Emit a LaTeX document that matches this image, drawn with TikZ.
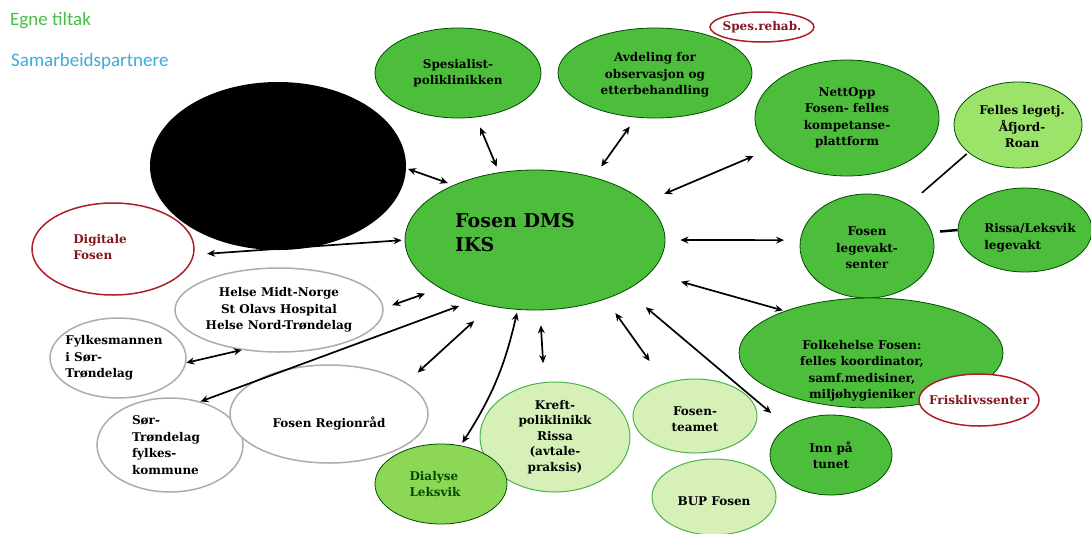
\documentclass[tikz,border=0pt]{standalone}
\usepackage{fontspec}
\setmainfont{DejaVu Serif}
\newfontfamily\legendfont{Carlito}
\usepackage{tikz}
\usetikzlibrary{arrows, arrows.meta}
\usetikzlibrary{shapes}

\definecolor{tiltakgreen}{RGB}{77,190,60}
\definecolor{lightgreen}{RGB}{155,228,105}
\definecolor{dialysegreen}{RGB}{140,215,85}
\definecolor{palegreen}{RGB}{214,240,184}
\definecolor{rehabred}{RGB}{175,30,40}
\definecolor{legendgreen}{RGB}{70,190,70}
\definecolor{legendblue}{RGB}{60,170,220}

\begin{document}
\begin{tikzpicture}[x=1pt,y=-1pt]
\tikzset{txt/.style={font=\bfseries\fontsize{12}{16.5}\selectfont, align=center, inner sep=0pt}}
\tikzset{tiltak/.style={ellipse, draw=green!30!black, line width=0.8pt, fill=tiltakgreen, inner sep=0pt}}
\tikzset{partner/.style={ellipse, draw=gray!65, line width=1.5pt, fill=white, inner sep=0pt}}
\tikzset{rehab/.style={ellipse, draw=rehabred, line width=1.5pt, fill=white, inner sep=0pt}}
\tikzset{redtxt/.style={txt, text=rehabred!75!black}}
\tikzset{legend/.style={anchor=base west, inner sep=0pt, font=\legendfont\fontsize{19}{21}\selectfont}}
\tikzset{link/.style={{Stealth[length=8pt,width=7pt]}-{Stealth[length=8pt,width=7pt]}, line width=1.7pt}}
\useasboundingbox (0,0) rectangle (1091,533);

\node[legend, text=legendgreen] (egne) at (10,25) {Egne tiltak};
\node[legend, text=legendblue] (samarbeid) at (11,66) {Samarbeidspartnere};

\node[ellipse, fill=black, inner sep=0pt, minimum width=256, minimum height=168] (black) at (278,166) {};
\node[tiltak, minimum width=260, minimum height=140, label={[txt, font=\bfseries\fontsize{19}{24}\selectfont, align=left, xshift=-20pt, yshift=7pt]center:{Fosen DMS\\IKS}}] (dms) at (535,240) {};
\node[tiltak, minimum width=166, minimum height=90, label={[txt]center:{Spesialist-\\poliklinikken}}] (spes) at (458,73) {};
\node[tiltak, minimum width=194, minimum height=90, label={[txt, yshift=-2pt]center:{Avdeling for\\observasjon og\\etterbehandling}}] (avd) at (655,73) {};
\node[rehab, minimum width=104, minimum height=30, label={[redtxt]center:{Spes.rehab.}}] (spesrehab) at (762,27) {};
\node[tiltak, minimum width=184, minimum height=116, label={[txt]center:{NettOpp\\Fosen- felles\\kompetanse-\\plattform}}] (nett) at (847,118) {};
\node[ellipse, draw=green!30!black, line width=0.8pt, fill=lightgreen, inner sep=0pt, minimum width=128, minimum height=86, label={[txt, xshift=4pt, yshift=-2pt]center:{Felles legetj.\\Åfjord-\\Roan}}] (felles) at (1018,125) {};
\node[tiltak, minimum width=134, minimum height=104, label={[txt, yshift=-2pt]center:{Fosen\\legevakt-\\senter}}] (legevakt) at (867,246) {};
\node[tiltak, minimum width=134, minimum height=84, label={[txt, align=left, xshift=5pt, yshift=-8pt]center:{Rissa/Leksvik\\legevakt}}] (rissa) at (1025,230) {};
\node[tiltak, minimum width=264, minimum height=110, label={[txt, xshift=-9pt, yshift=-18pt]center:{Folkehelse Fosen:\\felles koordinator,\\samf.medisiner,\\miljøhygieniker}}] (fh) at (871,353) {};
\node[rehab, minimum width=120, minimum height=52, label={[redtxt]center:{Frisklivssenter}}] (frisk) at (979,400) {};
\node[tiltak, minimum width=122, minimum height=80, label={[txt]center:{Inn på\\tunet}}] (tunet) at (831,455) {};
\node[ellipse, draw=gray!60!green, line width=1pt, fill=palegreen, inner sep=0pt, minimum width=124, minimum height=76, label={[txt, yshift=-4pt]center:{BUP Fosen}}] (bup) at (714,497) {};
\node[ellipse, draw=gray!60!green, line width=1pt, fill=palegreen, inner sep=0pt, minimum width=124, minimum height=74, label={[txt, yshift=-3pt]center:{Fosen-\\teamet}}] (teamet) at (695,416) {};
\node[ellipse, draw=gray!60!green, line width=1pt, fill=palegreen, inner sep=0pt, minimum width=150, minimum height=110, label={[txt, font=\bfseries\fontsize{12}{15.5}\selectfont]center:{Kreft-\\poliklinikk\\Rissa\\(avtale-\\praksis)}}] (kreft) at (555,437) {};
\node[ellipse, draw=green!30!black, line width=0.8pt, fill=dialysegreen, inner sep=0pt, minimum width=132, minimum height=80, label={[txt, align=left, text=green!30!black, xshift=-6pt]center:{Dialyse\\Leksvik}}] (dialyse) at (441,484) {};

\node[partner, minimum width=146, minimum height=94, label={[txt, align=left, xshift=-4pt]center:{Sør-\\Trøndelag\\fylkes-\\kommune}}] (stfk) at (170,445) {};
\node[partner, minimum width=198, minimum height=98, label={[txt, yshift=-9pt]center:{Fosen Regionråd}}] (region) at (329,414) {};
\node[partner, minimum width=136, minimum height=80, label={[txt, align=left, xshift=-4pt]center:{Fylkesmannen\\i Sør-\\Trøndelag}}] (fylkesmann) at (118,358) {};
\node[partner, minimum width=208, minimum height=84, label={[txt]center:{Helse Midt-Norge\\St Olavs Hospital\\Helse Nord-Trøndelag}}] (helse) at (279,310) {};
\node[rehab, minimum width=162, minimum height=92, label={[redtxt, align=left, xshift=-13pt, yshift=2pt]center:{Digitale\\Fosen}}] (digital) at (113,249) {};

\draw[link, shorten <=6pt, shorten >=11pt] (dms.118) -- (spes.-68);
\draw[link, shorten <=13pt, shorten >=11pt] (dms.47) -- (avd.-113);
\draw[link, shorten <=21pt, shorten >=17pt] (dms.19) -- (nett.-158);
\draw[link, shorten <=15pt, shorten >=16pt] (dms.0) -- (legevakt.175);
\draw[link, shorten <=32pt, shorten >=2pt] (dms.-16) -- (fh.154);
\draw[link, shorten <=26pt, shorten >=21pt] (dms.-29) -- (tunet.147);
\draw[link, shorten <=17pt, shorten >=27pt] (dms.-40) -- (teamet.132);
\draw[link, shorten <=15pt, shorten >=19pt] (dms.-86) -- (kreft.101);
\draw[link, shorten <=3pt, shorten >=3pt] (dms.-104) to[bend left=10] (dialyse.63);
\draw[link, shorten <=22pt, shorten >=15pt] (dms.-124) -- (region.22);
\draw[link, shorten <=13pt] (dms.-136) -- (stfk.55);
\draw[link, shorten <=16pt, shorten >=9pt] (dms.-153) -- (helse.1);
\draw[link] (fylkesmann.-4) -- (helse.-133);
\draw[link, shorten <=13pt, shorten >=3pt] (digital.-4) -- (dms.180);
\draw[link, shorten <=2pt, shorten >=6pt] (black.-1) -- (dms.146);
\draw[line width=1.6pt, shorten <=18pt, shorten >=2pt] (legevakt.45) -- (felles.-151);
\draw[line width=2.5pt, shorten <=8pt] (legevakt.12) -- (rissa.180);
\end{tikzpicture}
\end{document}
